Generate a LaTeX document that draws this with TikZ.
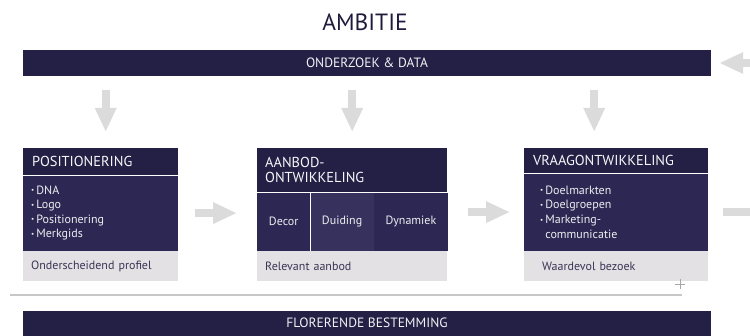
\documentclass[tikz,border=0pt]{standalone}
\usepackage{fontspec}
\setmainfont{PT Sans}
\usepackage{tikz}
\usetikzlibrary{arrows.meta,positioning}
\definecolor{navy}{HTML}{241F45}
\definecolor{navybody}{HTML}{2C2853}
\definecolor{navylight}{HTML}{36325D}
\definecolor{panel}{HTML}{E3E1E3}
\definecolor{arrowgray}{HTML}{DCDBDB}
\definecolor{inktext}{HTML}{3A3556}
\newcommand{\itm}[1]{\raisebox{1.4pt}{\fontsize{7}{7}\selectfont\textbullet}\,#1}

\begin{document}
\begin{tikzpicture}[x=1pt,y=-1pt,
  bar/.style={fill=navy,text=white!94!navy,minimum width=688pt,minimum height=26pt,inner sep=0pt,font=\fontsize{13.5}{14}\selectfont},
  head/.style={fill=navy,anchor=north west,inner xsep=9pt,inner ysep=0pt,align=left,text=white!96!navy,font=\fontsize{14.4}{15}\selectfont},
  body/.style={fill=navybody,anchor=north west,inner xsep=8pt,inner ysep=0pt,align=left,text=white!92!navy,font=\fontsize{12}{14.6}\selectfont},
  foot/.style={fill=panel,anchor=north west,inner xsep=8pt,inner ysep=0pt,align=left,text=inktext,font=\fontsize{12}{13}\selectfont},
  col/.style={fill=navybody,anchor=north west,inner sep=0pt,minimum height=58pt,text=white!92!navy,font=\fontsize{12}{13}\selectfont},
  fat/.style={draw=arrowgray,line width=8pt,-{Triangle[width=20pt,length=24pt]}}]
%\draw[help lines](0,0)grid[step=25](750,336);
\clip (0,0) rectangle (750,336);
\node[font=\fontsize{23.5}{26}\selectfont,text=navy!85!black] (ambitie) at (365,22) {AMBITIE};
\node[bar] (data) at (367,63) {ONDERZOEK \& DATA};

% positionering
\node[head,text width=137pt,minimum height=27pt] (posh) at (23,148) {POSITIONERING};
\node[body,text width=139pt,minimum height=75pt,below=0pt of posh] (posb) {\itm{DNA}\\\itm{Logo}\\\itm{Positionering}\\\itm{Merkgids}};
\node[foot,text width=139pt,minimum height=30pt,below=0pt of posb] (posf) {Onderscheidend profiel};

% aanbodontwikkeling
\node[head,inner xsep=8pt,text width=174pt,minimum height=44pt] (aanh) at (257,148) {AANBOD-\\ONTWIKKELING};
\node[col,minimum width=53pt] (decor) at (aanh.south west) {Decor};
\node[col,minimum width=63pt,fill=navylight,right=0pt of decor] (duiding) {Duiding};
\node[col,minimum width=74pt,right=0pt of duiding] (dynamiek) {Dynamiek};
\node[foot,text width=174pt,minimum height=30pt] (aanf) at (decor.south west) {Relevant aanbod};

% vraagontwikkeling
\node[head,text width=166pt,minimum height=25pt] (vraagh) at (524,148) {VRAAGONTWIKKELING};
\node[body,inner xsep=16pt,text width=152pt,minimum height=77pt,below=0pt of vraagh] (vraagb) {\itm{Doelmarkten}\\\itm{Doelgroepen}\\\itm{Marketing-}\\\hphantom{\itm{}}communicatie};
\node[foot,inner xsep=18pt,text width=148pt,minimum height=30pt,below=0pt of vraagb] (vraagf) {Waardevol bezoek};

\node[bar,minimum height=24pt] (flor) at (367,323) {FLORERENDE BESTEMMING};

% pijlen
\coordinate (d1) at ([xshift=5pt]posh.north);
\coordinate (d2) at (aanh.north);
\coordinate (d3) at ([xshift=-22pt]vraagh.north);
\foreach \d in {d1,d2,d3}
  \draw[fat,shorten <=14pt,shorten >=16pt] (data.south -| \d) -- (\d);
\draw[fat,shorten <=17pt,shorten >=20pt] (posb.east) -- (posb.east -| decor.west);
\draw[fat,shorten <=20pt,shorten >=14pt] (vraagb.west -| dynamiek.east) -- (vraagb.west);
\coordinate (uit) at (800,211);
\draw[fat,shorten <=15pt] (vraagb.east) -- (vraagb.east -| uit);
\coordinate (terug) at (790,64);
\draw[fat,shorten >=8pt] (terug |- data.east) -- (data.east);

\draw[line width=1.5pt,draw=black!22] (10,295) -- (682,295);
\draw[line width=0.7pt,draw=black!35] (675,284) -- (685,284) (680,279) -- (680,289);
\fill[navy] (flor.south west) rectangle ([yshift=-20pt]flor.south east);
\end{tikzpicture}
\end{document}
